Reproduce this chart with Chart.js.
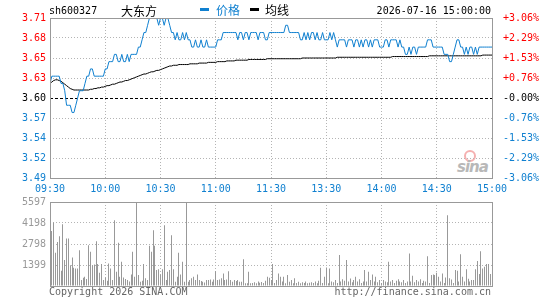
<!DOCTYPE html>
<html>
<head>
<meta charset="utf-8">
<script src="https://cdn.jsdelivr.net/npm/chart.js@4.4.0/dist/chart.umd.min.js"></script>
<style>
    body { margin: 0; background: #fff; }
    #wrap { position: relative; width: 545px; height: 300px; overflow: hidden;
            font-family: "DejaVu Sans Mono", monospace; font-size: 10px; }
    canvas { position: absolute; left: 0; z-index: 2; }
    #price { top: 0; }
    #volume { top: 190px; }
    .t { position: absolute; white-space: nowrap; line-height: 12px; z-index: 3; }
    .cjk { font-family: "Noto Sans CJK SC", sans-serif; font-size: 12px; line-height: 14px; }
    .dash { position: absolute; width: 9px; height: 3px; z-index: 3; }
    #mark { position: absolute; left: 457px; top: 158px; z-index: 1; color: #b8b8b8;
            font: italic bold 15px "DejaVu Sans", sans-serif; letter-spacing: -1px; }
    #eye { position: absolute; left: 464px; top: 150px; width: 8px; height: 8px; z-index: 1;
           border: 2px solid #f5b0b0; border-radius: 50%; }
</style>
</head>
<body>
<div id="wrap">
    <div class="t" style="left:49px; top:5px;">sh600327</div>
    <div class="t cjk" style="left:121px; top:4px;">大东方</div>
    <div class="dash" style="left:200px; top:8px; background:#1080d0;"></div>
    <div class="t cjk" style="left:216px; top:3px; color:#1080d0;">价格</div>
    <div class="dash" style="left:250px; top:8px; background:#000;"></div>
    <div class="t cjk" style="left:265px; top:3px;">均线</div>
    <div class="t" style="right:54px; top:5px;">2026-07-16 15:00:00</div>
    <div id="eye"></div>
    <div id="mark">sina</div>
    <canvas id="price" width="545" height="200"></canvas>
    <canvas id="volume" width="545" height="110"></canvas>
    <div class="t" style="left:49px; top:286px; color:#666;">Copyright 2026 SINA.COM</div>
    <div class="t" style="right:54px; top:286px; color:#666;">http://finance.sina.com.cn</div>
</div>
<script>
// one value per minute, 09:30 .. 11:30 / 13:00 .. 15:00
const timeLabels = ['09:30', '10:00', '10:30', '11:00', '11:30', '13:30', '14:00', '14:30', '15:00'];
const prevClose = 3.60;
const priceTicks = [3.49, 3.5175, 3.545, 3.5725, 3.60, 3.6275, 3.655, 3.6825, 3.71];
const priceTickLabels = ['3.49', '3.52', '3.54', '3.57', '3.60', '3.63', '3.65', '3.68', '3.71'];
const pctTickLabels = ['-3.06%', '-2.29%', '-1.53%', '-0.76%', '-0.00%', '+0.76%', '+1.53%', '+2.29%', '+3.06%'];
const volTicks = [0, 1399, 2798, 4198, 5597];
const volTickLabels = ['', '1399', '2798', '4198', '5597'];

const price = [
    3.62, 3.63, 3.63, 3.63, 3.63, 3.63, 3.62, 3.62, 3.61, 3.59,
    3.59, 3.59, 3.58, 3.58, 3.59, 3.60, 3.61, 3.61, 3.61, 3.62,
    3.63, 3.63, 3.64, 3.64, 3.63, 3.63, 3.63, 3.63, 3.63, 3.63,
    3.64, 3.64, 3.65, 3.65, 3.65, 3.66, 3.66, 3.65, 3.65, 3.66,
    3.65, 3.65, 3.66, 3.65, 3.66, 3.66, 3.66, 3.66, 3.67, 3.67,
    3.68, 3.69, 3.69, 3.70, 3.71, 3.71, 3.71, 3.71, 3.71, 3.70,
    3.71, 3.71, 3.70, 3.71, 3.71, 3.70, 3.69, 3.69, 3.68, 3.69,
    3.68, 3.68, 3.69, 3.68, 3.69, 3.68, 3.68, 3.67, 3.67, 3.68,
    3.67, 3.67, 3.68, 3.67, 3.67, 3.68, 3.67, 3.67, 3.67, 3.67,
    3.67, 3.68, 3.68, 3.68, 3.69, 3.69, 3.69, 3.69, 3.69, 3.69,
    3.69, 3.69, 3.68, 3.69, 3.69, 3.68, 3.69, 3.69, 3.68, 3.69,
    3.69, 3.69, 3.69, 3.68, 3.69, 3.69, 3.69, 3.68, 3.68, 3.69,
    3.69, 3.69, 3.69, 3.69, 3.69, 3.69, 3.69, 3.69, 3.70, 3.70,
    3.69, 3.69, 3.69, 3.69, 3.69, 3.69, 3.68, 3.68, 3.69, 3.68,
    3.69, 3.68, 3.69, 3.69, 3.68, 3.69, 3.68, 3.68, 3.69, 3.68,
    3.68, 3.68, 3.69, 3.68, 3.69, 3.68, 3.67, 3.68, 3.68, 3.68,
    3.68, 3.67, 3.68, 3.68, 3.68, 3.67, 3.68, 3.68, 3.67, 3.68,
    3.67, 3.68, 3.68, 3.67, 3.68, 3.67, 3.68, 3.68, 3.68, 3.67,
    3.67, 3.67, 3.68, 3.68, 3.67, 3.68, 3.68, 3.68, 3.68, 3.67,
    3.68, 3.67, 3.67, 3.66, 3.66, 3.67, 3.66, 3.67, 3.67, 3.66,
    3.67, 3.67, 3.67, 3.67, 3.67, 3.68, 3.68, 3.68, 3.67, 3.67,
    3.67, 3.67, 3.67, 3.67, 3.66, 3.66, 3.66, 3.65, 3.65, 3.66,
    3.67, 3.68, 3.68, 3.67, 3.67, 3.66, 3.67, 3.66, 3.67, 3.67,
    3.66, 3.67, 3.66, 3.67, 3.67, 3.67, 3.67, 3.67, 3.67, 3.67,
    3.67
];

const avgPrice = [
    3.620, 3.622, 3.624, 3.625, 3.625, 3.624, 3.623, 3.621, 3.619, 3.617,
    3.615, 3.613, 3.612, 3.611, 3.611, 3.611, 3.611, 3.611, 3.611, 3.611,
    3.611, 3.611, 3.612, 3.612, 3.613, 3.613, 3.614, 3.614, 3.615, 3.615,
    3.616, 3.617, 3.617, 3.618, 3.619, 3.619, 3.620, 3.621, 3.622, 3.622,
    3.623, 3.624, 3.624, 3.625, 3.626, 3.627, 3.628, 3.629, 3.630, 3.631,
    3.632, 3.633, 3.633, 3.634, 3.635, 3.636, 3.636, 3.637, 3.638, 3.638,
    3.639, 3.640, 3.641, 3.642, 3.643, 3.644, 3.644, 3.645, 3.645, 3.645,
    3.646, 3.646, 3.646, 3.646, 3.646, 3.646, 3.647, 3.647, 3.647, 3.647,
    3.647, 3.648, 3.648, 3.648, 3.648, 3.648, 3.649, 3.649, 3.649, 3.649,
    3.649, 3.650, 3.650, 3.650, 3.650, 3.650, 3.651, 3.651, 3.651, 3.651,
    3.651, 3.652, 3.652, 3.652, 3.652, 3.652, 3.652, 3.652, 3.653, 3.653,
    3.653, 3.653, 3.653, 3.653, 3.653, 3.653, 3.653, 3.653, 3.654, 3.654,
    3.654, 3.654, 3.654, 3.654, 3.654, 3.654, 3.654, 3.654, 3.654, 3.654,
    3.654, 3.654, 3.654, 3.654, 3.654, 3.654, 3.654, 3.655, 3.655, 3.655,
    3.655, 3.655, 3.655, 3.655, 3.655, 3.655, 3.655, 3.655, 3.655, 3.655,
    3.655, 3.655, 3.655, 3.655, 3.655, 3.655, 3.656, 3.656, 3.656, 3.656,
    3.656, 3.656, 3.656, 3.656, 3.656, 3.656, 3.656, 3.656, 3.656, 3.656,
    3.656, 3.656, 3.656, 3.656, 3.656, 3.656, 3.656, 3.656, 3.656, 3.656,
    3.656, 3.656, 3.656, 3.656, 3.656, 3.656, 3.657, 3.657, 3.657, 3.657,
    3.657, 3.657, 3.657, 3.657, 3.657, 3.657, 3.657, 3.657, 3.657, 3.657,
    3.657, 3.657, 3.657, 3.657, 3.657, 3.657, 3.658, 3.658, 3.658, 3.658,
    3.658, 3.658, 3.658, 3.658, 3.658, 3.658, 3.658, 3.658, 3.658, 3.658,
    3.658, 3.658, 3.658, 3.658, 3.658, 3.658, 3.658, 3.658, 3.658, 3.658,
    3.658, 3.658, 3.658, 3.658, 3.658, 3.659, 3.659, 3.659, 3.659, 3.659,
    3.659
];

const volume = [
    620, 3670, 4225, 2210, 2940, 3320, 1020, 4110, 1725, 3160,
    3160, 1390, 1900, 1210, 1170, 1170, 2390, 400, 550, 620,
    460, 2720, 2280, 1390, 1430, 2990, 1460, 880, 1460, 400,
    570, 350, 1500, 1170, 400, 4380, 950, 2875, 620, 1610,
    570, 460, 400, 300, 770, 2280, 620, 5597, 730, 290,
    350, 1460, 510, 400, 2680, 2280, 3720, 2680, 1060, 1110,
    770, 1110, 4050, 400, 950, 1060, 3380, 1110, 290, 620,
    2210, 770, 1610, 290, 5530, 290, 400, 510, 620, 400,
    770, 400, 330, 290, 240, 400, 400, 440, 290, 440,
    990, 400, 440, 510, 840, 400, 440, 990, 400, 290,
    400, 330, 400, 290, 290, 1790, 180, 180, 950, 180,
    200, 250, 180, 300, 220, 260, 200, 350, 620, 550,
    400, 1460, 200, 400, 840, 620, 300, 620, 180, 730,
    290, 400, 180, 510, 200, 290, 180, 250, 200, 300,
    180, 220, 250, 200, 300, 180, 350, 1220, 200, 620,
    1240, 180, 1170, 300, 250, 400, 200, 2060, 300, 450,
    350, 1725, 300, 500, 250, 400, 620, 300, 450, 200,
    300, 1060, 300, 950, 400, 770, 300, 620, 250, 400,
    200, 400, 300, 250, 1615, 300, 400, 200, 350, 450,
    300, 250, 400, 200, 300, 2170, 300, 690, 250, 400,
    300, 450, 200, 350, 300, 1990, 200, 730, 770, 730,
    880, 620, 300, 840, 200, 570, 4710, 510, 440, 200,
    1060, 1020, 300, 2120, 620, 300, 1110, 480, 300, 400,
    400, 1110, 1660, 800, 2320, 1170, 1280, 1460, 1460, 800,
    1460
];

const RED = '#ff0000';
const BLUE = '#1080d0';
const GRID = '#b4b4b4';

Chart.defaults.font.family = '"DejaVu Sans Mono", monospace';
Chart.defaults.font.size = 10;
Chart.defaults.animation = false;

function tickColor(ctx) {
    let v = ctx.tick.value;
    if (v > prevClose) return RED;
    if (v < prevClose) return BLUE;
    return '#000';
}

// draws the grey frame round the plot area
const frame = {
    id: 'frame',
    afterDraw(chart) {
        let a = chart.chartArea;
        let c = chart.ctx;
        c.save();
        c.strokeStyle = '#999';
        c.lineWidth = 1;
        c.strokeRect(a.left + 0.5, a.top + 0.5, a.right - a.left, a.bottom - a.top);
        c.restore();
    }
};

// snap the 1px volume bars onto whole pixels so they stay crisp
const snapBars = {
    id: 'snapBars',
    afterDatasetsUpdate(chart) {
        chart.getDatasetMeta(0).data.forEach(bar => {
            bar.x = Math.floor(bar.x) + 0.5;
        });
    }
};

new Chart(document.getElementById('price'), {
    type: 'line',
    data: {
        datasets: [{
            data: price.map((v, i) => ({x: i, y: v})),
            borderColor: BLUE,
            borderWidth: 1,
            pointRadius: 0,
            tension: 0
        }, {
            data: avgPrice.map((v, i) => ({x: i, y: v})),
            borderColor: '#000',
            borderWidth: 1,
            pointRadius: 0,
            tension: 0
        }]
    },
    options: {
        responsive: false,
        layout: {padding: {top: 18, left: 0, right: 0, bottom: 0}},
        plugins: {legend: {display: false}, tooltip: {enabled: false}},
        scales: {
            x: {
                type: 'linear', min: 0, max: 240,
                afterFit: s => { s.height = 22; },
                grid: {color: GRID, drawTicks: false},
                border: {display: false, dash: [1, 2]},
                ticks: {
                    stepSize: 30, autoSkip: false, maxRotation: 0, padding: 5,
                    color: BLUE,
                    callback: v => timeLabels[v / 30]
                }
            },
            y: {
                position: 'left', min: 3.49, max: 3.71,
                afterFit: s => { s.width = 50; },
                afterBuildTicks: s => { s.ticks = priceTicks.map(v => ({value: v})); },
                grid: {
                    drawTicks: false,
                    color: ctx => ctx.tick && ctx.tick.value === prevClose ? '#000' : GRID
                },
                border: {
                    display: false,
                    dash: ctx => ctx.tick && ctx.tick.value === prevClose ? [3, 2] : [1, 2]
                },
                ticks: {
                    padding: 4, color: tickColor,
                    callback: (v, i) => priceTickLabels[i]
                }
            },
            yr: {
                position: 'right', min: 3.49, max: 3.71,
                afterFit: s => { s.width = 53; },
                afterBuildTicks: s => { s.ticks = priceTicks.map(v => ({value: v})); },
                grid: {display: false},
                border: {display: false},
                ticks: {
                    padding: 3, color: tickColor,
                    callback: (v, i) => pctTickLabels[i]
                }
            }
        }
    },
    plugins: [frame]
});

new Chart(document.getElementById('volume'), {
    type: 'bar',
    data: {
        datasets: [{
            data: volume.map((v, i) => ({x: i, y: v})),
            backgroundColor: '#999',
            barThickness: 1,
            inflateAmount: 0,
            borderWidth: 0
        }]
    },
    options: {
        responsive: false,
        layout: {padding: {top: 12, left: 0, right: 53, bottom: 0}},
        plugins: {legend: {display: false}, tooltip: {enabled: false}},
        scales: {
            x: {
                type: 'linear', min: 0, max: 240, offset: false,
                afterFit: s => { s.height = 14; },
                grid: {color: GRID, drawTicks: false, offset: false},
                border: {display: false, dash: [1, 2]},
                ticks: {stepSize: 30, display: false}
            },
            y: {
                min: 0, max: 5597,
                afterFit: s => { s.width = 50; },
                afterBuildTicks: s => { s.ticks = volTicks.map(v => ({value: v})); },
                grid: {color: GRID, drawTicks: false},
                border: {display: false, dash: [1, 2]},
                ticks: {
                    padding: 4, color: '#999',
                    callback: (v, i) => volTickLabels[i]
                }
            }
        }
    },
    plugins: [frame, snapBars]
});
</script>
</body>
</html>
